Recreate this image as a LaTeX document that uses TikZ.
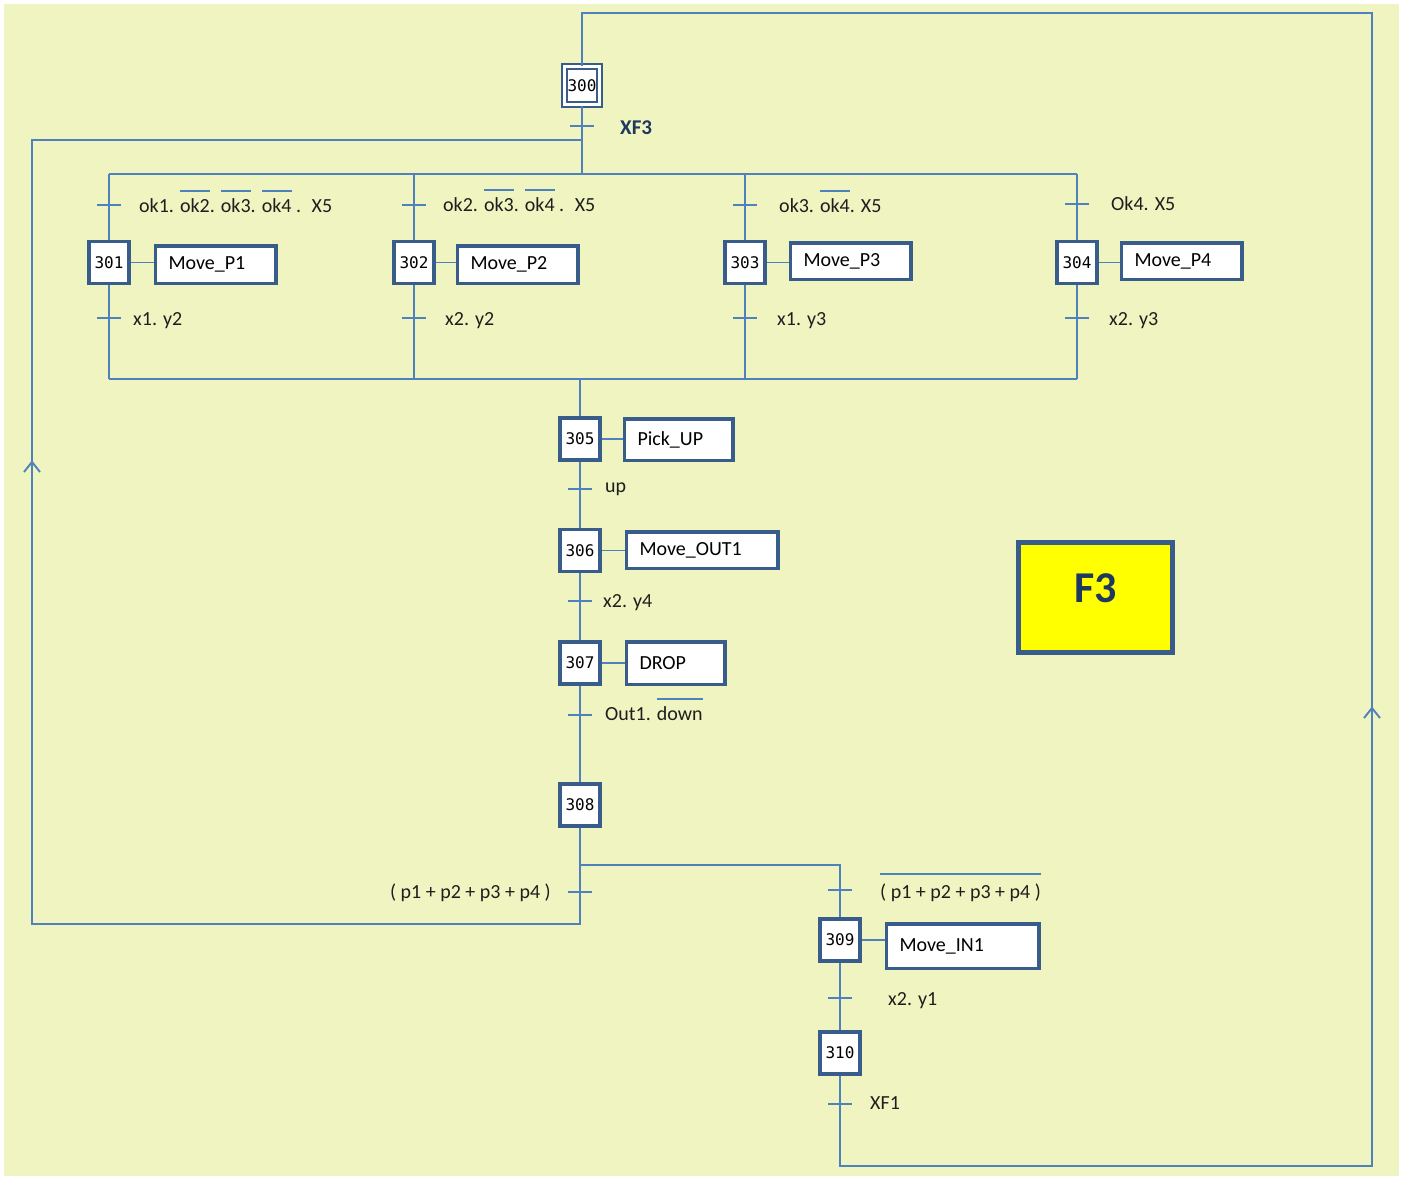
\documentclass[tikz,border=0pt]{standalone}
\usepackage{fontspec}
\setmainfont{Carlito}
\newfontfamily\stepfont{DejaVu Sans Mono}

\definecolor{paper}{RGB}{239,244,192}
\definecolor{linec}{RGB}{79,129,189}
\definecolor{boxc}{RGB}{56,93,138}
\definecolor{labc}{RGB}{30,30,30}
\definecolor{navy}{RGB}{31,56,96}
\definecolor{tagfill}{RGB}{255,255,0}

% text with a bar drawn above it (negated condition)
\newcommand\barred[2][6pt]{\setbox0=\hbox{#2}\rlap{\color{linec}\rule[\dimexpr\ht0+#1\relax]{\wd0}{2.2pt}}\box0}

\tikzset{
  wire/.style={draw=linec, line width=1.9pt},
  stepbox/.style={draw=boxc, line width=3.5pt, fill=white, minimum width=40pt,
    minimum height=42pt, inner sep=0pt, font=\stepfont\fontsize{16}{18}\selectfont},
  initbox/.style={draw=boxc, line width=2pt, double=white, double distance=3pt,
    fill=white, minimum width=35pt, minimum height=38pt, inner sep=0pt,
    font=\stepfont\fontsize{16}{18}\selectfont},
  act/.style={draw=boxc, line width=3.5pt, fill=white, anchor=west, inner xsep=13pt,
    inner ysep=0pt, align=left, text width=#1, font=\fontsize{20}{24}\selectfont},
  lab/.style={anchor=west, inner sep=0pt, text height=14pt, text depth=0pt,
    font=\fontsize{20}{24}\selectfont, text=labc},
}

\begin{document}
\begin{tikzpicture}[x=1pt, y=-1pt]
  % page and sheet
  \useasboundingbox (0,0) rectangle (1404,1176);
  \fill[white] (0,0) rectangle (1404,1176);
  \fill[paper] (4,4) rectangle (1399,1176);

  % steps
  \node[initbox] (s300) at (582,85.5) {300};
  \node[stepbox] (s301) at (109,262.5) {301};
  \node[stepbox] (s302) at (414,262.5) {302};
  \node[stepbox] (s303) at (745,262.5) {303};
  \node[stepbox] (s304) at (1077,262.5) {304};
  \node[stepbox] (s305) at (580,439) {305};
  \node[stepbox] (s306) at (580,550.5) {306};
  \node[stepbox] (s307) at (580,663) {307};
  \node[stepbox] (s308) at (580,805) {308};
  \node[stepbox] (s309) at (840,940) {309};
  \node[stepbox] (s310) at (840,1053) {310};

  % actions
  \node[act=94.5pt, minimum height=37.5pt] (a301) at (153.75,264.5) {Move\_P1};
  \node[act=94.5pt, minimum height=37.5pt] (a302) at (455.75,264.5) {Move\_P2};
  \node[act=94.5pt, minimum height=36.5pt] (a303) at (788.75,261) {Move\_P3};
  \node[act=94.5pt, minimum height=36.5pt] (a304) at (1119.75,261) {Move\_P4};
  \node[act=82.5pt, minimum height=41.5pt] (a305) at (622.75,439.5) {Pick\_UP};
  \node[act=125.5pt, minimum height=36.5pt] (a306) at (624.75,550) {Move\_OUT1};
  \node[act=72.5pt, minimum height=42.5pt] (a307) at (624.75,663) {DROP};
  \node[act=126.5pt, minimum height=44.5pt] (a309) at (884.75,946) {Move\_IN1};

  \foreach \s in {301,302,303,304,305,306,307,309}
    \draw[wire] (s\s.east) -- (s\s.east -| a\s.west);

  % sequence points
  \coordinate (ctop) at (582,13);
  \coordinate (rtop) at (1372,13);
  \coordinate (rbot) at (1372,1166);
  \coordinate (cbot) at (840,1166);
  \coordinate (lj) at (582,140);
  \coordinate (ltop) at (32,140);
  \coordinate (lbot) at (32,924);
  \coordinate (cj) at (580,924);
  \coordinate (divL) at (109,174);
  \coordinate (divR) at (1077,174);
  \coordinate (divC) at (582,174);
  \coordinate (convL) at (109,379);
  \coordinate (convR) at (1077,379);
  \coordinate (convC) at (580,379);
  \coordinate (bj) at (580,865);
  \coordinate (bk) at (840,865);

  % links
  \draw[wire] (s310.south) -- (cbot) -- (rbot) -- (rtop) -- (ctop) -- (s300.north);
  \draw[wire] (s300.south) -- (divC);
  \draw[wire] (s308.south) -- (cj) -- (lbot) -- (ltop) -- (lj);
  \draw[wire] (divL) -- (divR);
  \draw[wire] (convL) -- (convR);
  \foreach \s in {301,302,303,304} {
    \draw[wire] (s\s.north |- divL) -- (s\s.north);
    \draw[wire] (s\s.south) -- (s\s.south |- convL);
  }
  \draw[wire] (convC) -- (s305.north);
  \draw[wire] (s305.south) -- (s306.north);
  \draw[wire] (s306.south) -- (s307.north);
  \draw[wire] (s307.south) -- (s308.north);
  \draw[wire] (bj) -- (bk) -- (s309.north);
  \draw[wire] (s309.south) -- (s310.north);

  % flow direction marks
  \coordinate (ua) at (32,462);
  \coordinate (ub) at (1372,708);
  \draw[wire] (ua) ++(-8,10) -- (ua) -- ++(8,10);
  \draw[wire] (ub) ++(-8,10) -- (ub) -- ++(8,10);

  % transitions
  \coordinate (t300) at (582,126);
  \coordinate (t301a) at (109,205);
  \coordinate (t302a) at (414,205);
  \coordinate (t303a) at (745,205);
  \coordinate (t304a) at (1077,204);
  \coordinate (t301b) at (109,318);
  \coordinate (t302b) at (414,318);
  \coordinate (t303b) at (745,318);
  \coordinate (t304b) at (1077,318);
  \coordinate (t305) at (580,489);
  \coordinate (t306) at (580,601);
  \coordinate (t307) at (580,715);
  \coordinate (t308a) at (580,892);
  \coordinate (t308b) at (840,890);
  \coordinate (t309) at (840,998);
  \coordinate (t310) at (840,1104);
  \foreach \t in {t300,t301a,t302a,t303a,t304a,t301b,t302b,t303b,t304b,
                  t305,t306,t307,t308a,t308b,t309,t310}
    \draw[wire] ([xshift=-12pt]\t) -- ([xshift=12pt]\t);

  % receptivities
  \node[lab, text=navy, font=\fontsize{21}{24}\selectfont\bfseries] (r300) at (620,127) {XF3};
  \node[lab] (r301a) at (139,205) {ok1. \barred{ok2}. \barred{ok3}. \barred{ok4} \ . \ X5};
  \node[lab] (r302a) at (443,204) {ok2. \barred{ok3}. \barred{ok4} \ . \ X5};
  \node[lab] (r303a) at (779,205) {ok3. \barred{ok4}. X5};
  \node[lab] (r304a) at (1111,203) {Ok4. X5};
  \node[lab] (r301b) at (133,318) {x1. y2};
  \node[lab] (r302b) at (445,318) {x2. y2};
  \node[lab] (r303b) at (777,318) {x1. y3};
  \node[lab] (r304b) at (1109,318) {x2. y3};
  \node[lab] (r305) at (605,485) {up};
  \node[lab] (r306) at (603,600) {x2. y4};
  \node[lab] (r307) at (605,713) {Out1. \barred{down}};
  \node[lab, anchor=east] (r308a) at (551,891) {( p1 + p2 + p3 + p4 )};
  \node[lab] (r308b) at (880,891) {\barred[8pt]{( p1 + p2 + p3 + p4 )}};
  \node[lab] (r309) at (888,998) {x2. y1};
  \node[lab] (r310) at (870,1102) {XF1};

  % macro-step tag
  \node[draw=boxc, line width=5pt, fill=tagfill, minimum width=154pt, minimum height=110pt,
        text depth=18pt, text=navy, font=\fontsize{44}{50}\selectfont\bfseries]
        (tag) at (1095.5,597.5) {F3};
\end{tikzpicture}
\end{document}
